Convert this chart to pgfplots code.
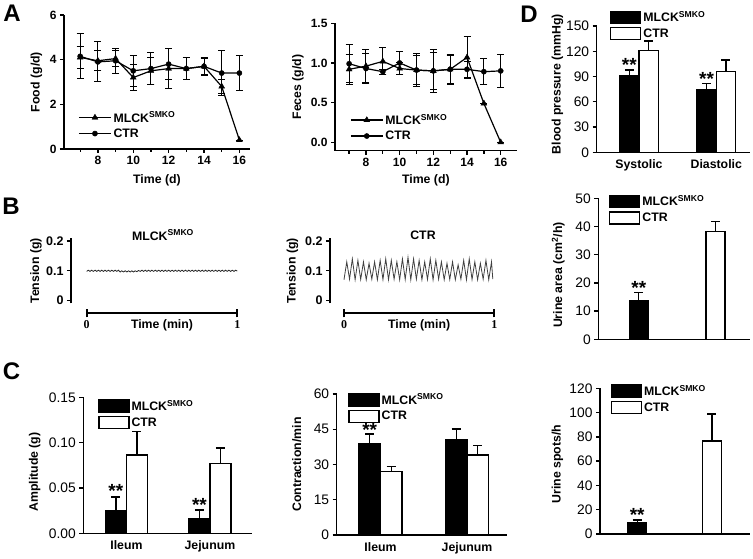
\documentclass[border=0pt]{standalone}
\usepackage{pgfplots}
\pgfplotsset{compat=1.18}
\usepackage{fontspec}
\setmainfont{Liberation Sans}
\newfontfamily\serifb{Liberation Serif}
\newcommand\lab{\bfseries\fontsize{12.3}{13}\selectfont}
\newcommand\tkb{\bfseries\fontsize{12}{12}\selectfont}
\newcommand\tkr{\fontsize{13.8}{14}\selectfont}
\newcommand\astf{\bfseries\fontsize{19}{19}\selectfont}
\newcommand\mlck{MLCK\textsuperscript{SMKO}}
\pgfplotsset{
  /pgfplots/ybar legend/.style={/pgfplots/legend image code/.code={\draw[##1,/tikz/.cd,yshift=0pt] (0pt,-6pt) rectangle (30pt,6pt);}},
  base/.style={scale only axis, axis lines=left, axis line style={line width=1.4pt,-},
    tick style={line width=1.3pt,black}, tick align=outside, major tick length=4pt, minor tick length=3pt,
    clip=false, /pgf/number format/assume math mode=true,
    tick label style={font=\tkb}, label style={font=\lab},
    legend cell align=left},
  barax/.style={base, ybar=0pt, xtick style={draw=none}, yticklabel style={font=\tkr},
    xticklabel style={font=\lab},
    legend style={draw=none, fill=none, font=\lab, row sep=1.5pt, anchor=north west}},
  linelegend/.style={legend style={draw=none, fill=none, font=\lab, row sep=1pt, anchor=north west},
    legend image code/.code={\draw[mark repeat=2,mark phase=2,##1] plot coordinates {(0pt,0pt) (16pt,0pt) (32pt,0pt)};}},
  tri/.style={black, line width=1.2pt, mark=triangle*, mark size=3.4pt, mark options={solid,line width=0.4pt},
    error bars/.cd, y dir=both, y explicit, error bar style={line width=1pt}, error mark options={rotate=90, mark size=3.5pt, line width=1pt}},
  circ/.style={black, line width=1.2pt, mark=*, mark size=2.6pt, mark options={solid,line width=0.4pt},
    error bars/.cd, y dir=both, y explicit, error bar style={line width=1pt}, error mark options={rotate=90, mark size=3.5pt, line width=1pt}},
  blk/.style={fill=black, draw=black, line width=1.3pt,
    error bars/.cd, y dir=plus, y explicit, error bar style={line width=1.3pt,black}, error mark options={rotate=90, mark size=4.5pt, line width=1.3pt,black}},
  wht/.style={fill=white, draw=black, line width=1.3pt,
    error bars/.cd, y dir=plus, y explicit, error bar style={line width=1.3pt,black}, error mark options={rotate=90, mark size=4.5pt, line width=1.3pt,black}},
  xline/.style={scale only axis, height=10pt, xmin=0, xmax=1, ymin=0, ymax=1,
    axis x line=bottom, axis y line=none, axis line style={line width=2pt,-},
    xtick={0,1}, tick align=center, major tick length=8pt, tick style={line width=2pt,black},
    xticklabel style={font=\serifb\bfseries\fontsize{12}{12}\selectfont},
    /pgf/number format/assume math mode=true,
    xlabel={Time (min)}, xlabel style={font=\lab, at={(axis description cs:0.5,0)}, anchor=center, yshift=-12pt}},
}
\begin{document}
\begin{tikzpicture}
\useasboundingbox (0,0) rectangle (753pt,559pt);
% panel letters
\node[font=\bfseries\fontsize{24}{24}\selectfont] at (12pt,545.5pt) {A};
\node[font=\bfseries\fontsize{24}{24}\selectfont] at (11pt,352.5pt) {B};
\node[font=\bfseries\fontsize{24}{24}\selectfont] at (11.5pt,188pt) {C};
\node[font=\bfseries\fontsize{24}{24}\selectfont] at (529pt,544.5pt) {D};

% ---------- A: Food ----------
\begin{axis}[base, linelegend, at={(64pt,410pt)}, anchor=south west, width=186pt, height=134pt,
  xmin=6.085, xmax=16.6, ymin=0, ymax=6,
  xtick={8,10,12,14,16}, minor xtick={7,9,11,13,15}, ytick={0,2,4,6},
  ylabel={Food (g/d)}, ylabel style={at={(axis description cs:-0.148,0.5)}, anchor=center},
  xlabel={Time (d)}, xlabel style={at={(axis description cs:0.5,-0.231)}, anchor=center},
  legend style={at={(0.06,0.31)}}]
\addplot[tri] table[x=x,y=y,y error=e] {
x y e
7 4.10 0.50
8 3.95 0.45
9 4.05 0.35
10 3.20 0.60
11 3.50 0.60
12 3.60 0.90
13 3.60 0.50
14 3.70 0.40
15 2.80 0.30
16 0.40 0.00
};
\addlegendentry{\mlck}
\addplot[circ] table[x=x,y=y,y error=e] {
x y e
7 4.15 1.00
8 3.90 0.90
9 3.95 0.55
10 3.50 0.70
11 3.60 0.70
12 3.80 0.70
13 3.60 0.50
14 3.70 0.35
15 3.40 1.00
16 3.40 0.80
};
\addlegendentry{CTR}
\end{axis}

% ---------- A: Feces ----------
\begin{axis}[base, linelegend, at={(335pt,408.3pt)}, anchor=south west, width=181.7pt, height=127.4pt,
  xmin=6.16, xmax=16.95, ymin=-0.106, ymax=1.5,
  xtick={8,10,12,14,16}, minor xtick={7,9,11,13,15}, ytick={0,0.5,1,1.5}, yticklabels={0.0,0.5,1.0,1.5},
  ylabel={Feces (g/d)}, ylabel style={at={(axis description cs:-0.204,0.5)}, anchor=center},
  xlabel={Time (d)}, xlabel style={at={(axis description cs:0.5,-0.23)}, anchor=center},
  legend style={at={(0.066,0.32)}}]
\addplot[tri] table[x=x,y=y,y error=e] {
x y e
7 0.92 0.19
8 0.96 0.21
9 1.02 0.17
10 0.93 0.08
11 0.91 0.18
12 0.90 0.23
13 0.92 0.19
14 1.07 0.26
15 0.49 0.00
16 0.00 0.00
};
\addlegendentry{\mlck}
\addplot[circ] table[x=x,y=y,y error=e] {
x y e
7 0.99 0.24
8 0.93 0.19
9 0.89 0.03
10 1.00 0.15
11 0.91 0.21
12 0.90 0.27
13 0.92 0.18
14 0.92 0.10
15 0.89 0.16
16 0.90 0.21
};
\addlegendentry{CTR}
\end{axis}

% ---------- B: MLCK trace ----------
\node[font=\lab] at (163pt,324pt) {\mlck};
\begin{axis}[base, at={(71pt,255.7pt)}, anchor=south west, width=166.3pt, height=65pt,
  xmin=-0.104, xmax=1, ymin=-0.009, ymax=0.209, axis x line=none,
  ytick={0,0.1,0.2}, yticklabels={0,0.1,0.2}, yticklabel style={font=\bfseries\fontsize{12.5}{13}\selectfont},
  ylabel={Tension (g)}, ylabel style={at={(axis description cs:-0.211,0.5)}, anchor=center}]
\addplot[black!85, line width=0.8pt] coordinates {
(0.000,0.098) (0.011,0.102) (0.022,0.098) (0.033,0.102) (0.044,0.098) (0.056,0.102) (0.067,0.098) (0.078,0.102)
(0.089,0.098) (0.100,0.102) (0.111,0.098) (0.122,0.102) (0.133,0.098) (0.144,0.102) (0.156,0.098) (0.167,0.102)
(0.178,0.098) (0.189,0.102) (0.200,0.098) (0.211,0.102) (0.222,0.096) (0.233,0.100) (0.244,0.096) (0.256,0.100)
(0.267,0.096) (0.278,0.100) (0.289,0.096) (0.300,0.100) (0.311,0.096) (0.322,0.100) (0.333,0.097) (0.344,0.101)
(0.356,0.098) (0.367,0.102) (0.378,0.098) (0.389,0.102) (0.400,0.098) (0.411,0.102) (0.422,0.098) (0.433,0.102)
(0.444,0.098) (0.456,0.102) (0.467,0.098) (0.478,0.102) (0.489,0.098) (0.500,0.102) (0.511,0.098) (0.522,0.102)
(0.533,0.098) (0.544,0.102) (0.556,0.098) (0.567,0.102) (0.578,0.098) (0.589,0.102) (0.600,0.098) (0.611,0.102)
(0.622,0.098) (0.633,0.102) (0.644,0.098) (0.656,0.102) (0.667,0.098) (0.678,0.102) (0.689,0.098) (0.700,0.102)
(0.711,0.098) (0.722,0.102) (0.733,0.098) (0.744,0.102) (0.756,0.098) (0.767,0.102) (0.778,0.098) (0.789,0.102)
(0.800,0.098) (0.811,0.102) (0.822,0.098) (0.833,0.102) (0.844,0.098) (0.856,0.102) (0.867,0.098) (0.878,0.102)
(0.889,0.098) (0.900,0.102) (0.911,0.098) (0.922,0.102) (0.933,0.098) (0.944,0.102) (0.956,0.098) (0.967,0.102)
(0.978,0.098) (0.989,0.102) (1.000,0.099)
};
\end{axis}
\begin{axis}[xline, at={(86.7pt,245.7pt)}, anchor=south west, width=150.6pt]
\addplot[draw=none] coordinates {(0,0)};
\end{axis}

% ---------- B: CTR trace ----------
\node[font=\lab] at (423pt,324pt) {CTR};
\begin{axis}[base, at={(330pt,255.7pt)}, anchor=south west, width=164.3pt, height=65pt,
  xmin=-0.093, xmax=1, ymin=-0.009, ymax=0.209, axis x line=none,
  ytick={0,0.1,0.2}, yticklabels={0,0.1,0.2}, yticklabel style={font=\bfseries\fontsize{12.5}{13}\selectfont},
  ylabel={Tension (g)}, ylabel style={at={(axis description cs:-0.228,0.5)}, anchor=center}]
\addplot[black!75, line width=0.8pt] coordinates {
(0.000,0.070) (0.0185,0.130) (0.0370,0.072) (0.0556,0.140) (0.0741,0.070) (0.0926,0.135) (0.1111,0.071) (0.1296,0.130)
(0.1481,0.070) (0.1667,0.125) (0.1852,0.072) (0.2037,0.130) (0.2222,0.070) (0.2407,0.135) (0.2593,0.071) (0.2778,0.140)
(0.2963,0.070) (0.3148,0.135) (0.3333,0.072) (0.3519,0.130) (0.3704,0.070) (0.3889,0.140) (0.4074,0.071) (0.4259,0.145)
(0.4444,0.070) (0.4630,0.140) (0.4815,0.072) (0.5000,0.135) (0.5185,0.070) (0.5370,0.130) (0.5556,0.071) (0.5741,0.140)
(0.5926,0.070) (0.6111,0.135) (0.6296,0.072) (0.6481,0.130) (0.6667,0.070) (0.6852,0.125) (0.7037,0.071) (0.7222,0.130)
(0.7407,0.070) (0.7593,0.120) (0.7778,0.072) (0.7963,0.135) (0.8148,0.070) (0.8333,0.140) (0.8519,0.071) (0.8704,0.130)
(0.8889,0.070) (0.9074,0.125) (0.9259,0.072) (0.9444,0.135) (0.9630,0.070) (0.9815,0.130) (0.9900,0.072)
};
\end{axis}
\begin{axis}[xline, at={(344pt,245.7pt)}, anchor=south west, width=150.3pt]
\addplot[draw=none] coordinates {(0,0)};
\end{axis}

% ---------- C: Amplitude ----------
\begin{axis}[barax, at={(83.3pt,25.7pt)}, anchor=south west, width=168.4pt, height=136pt,
  bar width=21pt, xmin=-0.516, xmax=1.5, ymin=0, ymax=0.15,
  xtick={0,1}, xticklabels={Ileum,Jejunum},
  ytick={0,0.05,0.1,0.15}, yticklabels={0.00,0.05,0.10,0.15},
  ylabel={Amplitude (g)}, ylabel style={at={(axis description cs:-0.289,0.45)}, anchor=center},
  legend style={at={(0.07,1.01)}}]
\addplot[blk] coordinates {(0,0.025) +- (0,0.015) (1,0.016) +- (0,0.0097)};
\addlegendentry{\mlck}
\addplot[wht] coordinates {(0,0.0864) +- (0,0.0256) (1,0.077) +- (0,0.017)};
\addlegendentry{CTR}
\node[font=\astf, anchor=base, yshift=-8pt] at (axis cs:-0.126,0.048) {**};
\node[font=\astf, anchor=base, yshift=-8pt] at (axis cs:0.874,0.033) {**};
\end{axis}

% ---------- C: Contraction ----------
\begin{axis}[barax, at={(336.7pt,24pt)}, anchor=south west, width=170pt, height=141pt,
  bar width=21.5pt, xmin=-0.506, xmax=1.459, ymin=0, ymax=60,
  xtick={0,1}, xticklabels={Ileum,Jejunum},
  ytick={0,15,30,45,60},
  ylabel={Contraction/min}, ylabel style={at={(axis description cs:-0.235,0.5)}, anchor=center},
  legend style={at={(0.05,1.03)}}]
\addplot[blk] coordinates {(0,39) +- (0,4) (1,40.4) +- (0,4.7)};
\addlegendentry{\mlck}
\addplot[wht] coordinates {(0,27) +- (0,2) (1,34) +- (0,4.2)};
\addlegendentry{CTR}
\node[font=\astf, anchor=base, yshift=-8pt] at (axis cs:-0.124,45.4) {**};
\end{axis}

% ---------- D: Blood pressure ----------
\begin{axis}[barax, at={(596.7pt,406.7pt)}, anchor=south west, width=153.3pt, height=126.3pt,
  bar width=19.3pt, xmin=-0.547, xmax=1.436, ymin=0, ymax=150,
  xtick={0,1}, xticklabels={Systolic,Diastolic},
  ytick={0,30,60,90,120,150},
  ylabel={Blood pressure (mmHg)}, ylabel style={at={(axis description cs:-0.256,0.54)}, anchor=center},
  legend style={at={(0.067,1.15)}}]
\addplot[blk] coordinates {(0,90.6) +- (0,7.1) (1,74.8) +- (0,7.1)};
\addlegendentry{\mlck}
\addplot[wht] coordinates {(0,120.7) +- (0,11.5) (1,95.8) +- (0,13.8)};
\addlegendentry{CTR}
\node[font=\astf, anchor=base, yshift=-8pt] at (axis cs:-0.125,105.7) {**};
\node[font=\astf, anchor=base, yshift=-8pt] at (axis cs:0.875,89) {**};
\end{axis}

% ---------- D: Urine area ----------
\begin{axis}[barax, at={(598.3pt,219.7pt)}, anchor=south west, width=151.7pt, height=141pt,
  bar width=19pt, xmin=-0.528, xmax=1.45, ymin=0, ymax=50,
  xtick=\empty, ytick={0,10,20,30,40,50},
  ylabel={Urine area (cm\textsuperscript{2}/h)}, ylabel style={at={(axis description cs:-0.264,0.456)}, anchor=center},
  legend style={at={(0.05,1.05)}}]
\addplot[bar shift=0pt, blk] coordinates {(0,13.6) +- (0,2.9)};
\addlegendentry{\mlck}
\addplot[bar shift=0pt, wht] coordinates {(1,38.2) +- (0,3.5)};
\addlegendentry{CTR}
\node[font=\astf, anchor=base, yshift=-8pt] at (axis cs:0,18.65) {**};
\end{axis}

% ---------- D: Urine spots ----------
\begin{axis}[barax, at={(600pt,25pt)}, anchor=south west, width=150pt, height=145.7pt,
  bar width=19pt, xmin=-0.498, xmax=1.51, ymin=0, ymax=120,
  xtick=\empty, ytick={0,20,40,60,80,100,120},
  ylabel={Urine spots/h}, ylabel style={at={(axis description cs:-0.283,0.48)}, anchor=center},
  legend style={at={(0.05,1.05)}}]
\addplot[bar shift=0pt, blk] coordinates {(0,9.3) +- (0,2.2)};
\addlegendentry{\mlck}
\addplot[bar shift=0pt, wht] coordinates {(1,76.6) +- (0,22.3)};
\addlegendentry{CTR}
\node[font=\astf, anchor=base, yshift=-8pt] at (axis cs:0,16.5) {**};
\end{axis}
\end{tikzpicture}
\end{document}
